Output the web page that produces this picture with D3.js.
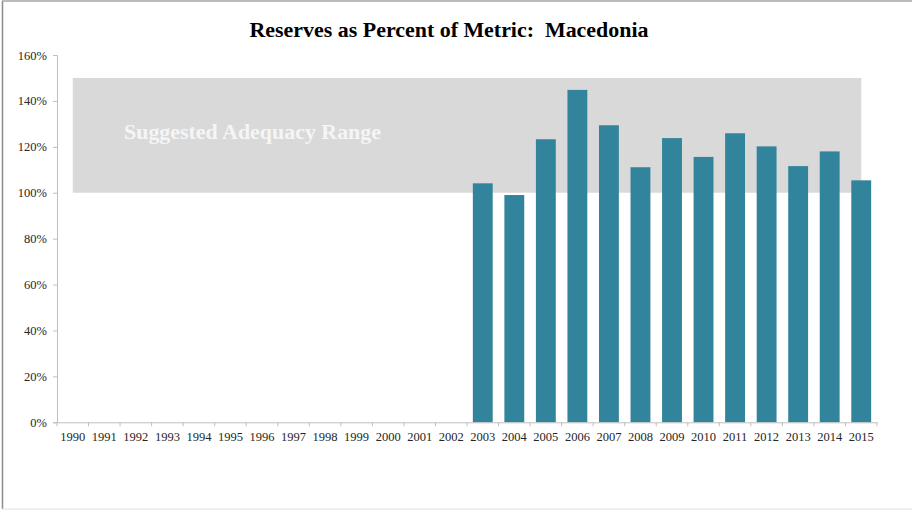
<!DOCTYPE html>
<html>
<head>
<meta charset="utf-8">
<script src="https://cdn.jsdelivr.net/npm/d3@7"></script>
<style>
  html, body { margin: 0; padding: 0; background: #fff; }
  svg { display: block; }
</style>
</head>
<body>
<svg id="chart" width="912" height="510"></svg>
<script>
// Reserves as a percent of the adequacy metric, by year
const years = ["1990","1991","1992","1993","1994","1995","1996","1997","1998","1999",
  "2000","2001","2002","2003","2004","2005","2006","2007","2008","2009",
  "2010","2011","2012","2013","2014","2015"];
const reserveValues = [null,null,null,null,null,null,null,null,null,null,
  null,null,null,104.1,99.0,123.3,144.8,129.4,111.1,123.8,
  115.6,125.9,120.2,111.6,118.0,105.4];
// Suggested adequacy range (lower and upper bound, percent)
const rangeLow = 100;
const rangeHigh = 150;
const yTicks = [0, 20, 40, 60, 80, 100, 120, 140, 160];

const svg = d3.select("#chart");
const W = 912, H = 510;
const margin = { left: 57, right: 35, top: 55, bottom: 87.7 };
const font = "'Liberation Serif', 'Times New Roman', serif";

// Outer frame
svg.append("line").attr("x1", 2.5).attr("x2", 2.5).attr("y1", 1).attr("y2", 509)
  .attr("stroke", "#8c8c8c").attr("stroke-width", 1.5);
svg.append("line").attr("x1", 2).attr("x2", W).attr("y1", 1).attr("y2", 1)
  .attr("stroke", "#a6a6a6").attr("stroke-width", 1.5);
svg.append("line").attr("x1", 2).attr("x2", W).attr("y1", 509).attr("y2", 509)
  .attr("stroke", "#e0e0e0").attr("stroke-width", 1);

const x = d3.scaleBand().domain(years)
  .range([margin.left, W - margin.right]).paddingInner(0.37).paddingOuter(0.185);
const xCat = d3.scaleBand().domain(years).range([margin.left, W - margin.right]);
const y = d3.scaleLinear().domain([0, 160]).range([H - margin.bottom, margin.top]);

// Adequacy band spans from the first to the last category centre
const bandX0 = xCat(years[0]) + xCat.bandwidth() / 2;
const bandX1 = xCat(years[years.length - 1]) + xCat.bandwidth() / 2;
svg.append("rect")
  .attr("x", bandX0).attr("y", y(rangeHigh))
  .attr("width", bandX1 - bandX0).attr("height", y(rangeLow) - y(rangeHigh))
  .attr("fill", "#d9d9d9");

svg.append("text")
  .attr("x", 124).attr("y", 139)
  .attr("font-family", font)
  .attr("font-weight", "bold").attr("font-size", 20)
  .attr("fill", "#f5f5f5")
  .attr("textLength", 257).attr("lengthAdjust", "spacingAndGlyphs")
  .text("Suggested Adequacy Range");

// Bars
const data = years.map((yr, i) => ({ year: yr, value: reserveValues[i] }))
  .filter(d => d.value != null);
svg.append("g").selectAll("rect").data(data).join("rect")
  .attr("x", d => x(d.year))
  .attr("y", d => y(d.value))
  .attr("width", x.bandwidth())
  .attr("height", d => y(0) - y(d.value))
  .attr("fill", "#31849b");

// Y axis
const yAxis = svg.append("g").attr("transform", `translate(${margin.left},0)`)
  .call(d3.axisLeft(y).tickValues(yTicks).tickSize(4).tickPadding(6)
    .tickFormat(d => d + "%"));
yAxis.select(".domain").attr("stroke", "#bfbfbf");
yAxis.selectAll(".tick line").attr("stroke", "#bfbfbf");
yAxis.selectAll(".tick text").attr("font-family", font).attr("font-size", 12.5)
  .attr("fill", "#262626");

// X axis
const xAxis = svg.append("g").attr("transform", `translate(0,${y(0)})`)
  .call(d3.axisBottom(xCat).tickSize(0).tickPadding(10));
xAxis.select(".domain").attr("stroke", "#bfbfbf");
xAxis.selectAll(".tick text").attr("font-family", font).attr("font-size", 12.5)
  .attr("fill", "#262626");
// Category separator ticks
xAxis.selectAll(".sep").data(d3.range(years.length + 1)).join("line")
  .attr("class", "sep")
  .attr("x1", i => margin.left + i * xCat.step())
  .attr("x2", i => margin.left + i * xCat.step())
  .attr("y1", 0).attr("y2", 4)
  .attr("stroke", "#bfbfbf");

// Title
svg.append("text")
  .attr("x", 449).attr("y", 37)
  .attr("text-anchor", "middle")
  .attr("font-family", font).attr("font-weight", "bold").attr("font-size", 21)
  .attr("fill", "#000")
  .attr("textLength", 399).attr("lengthAdjust", "spacingAndGlyphs")
  .attr("xml:space", "preserve")
  .text("Reserves as Percent of Metric:  Macedonia");
</script>
</body>
</html>
